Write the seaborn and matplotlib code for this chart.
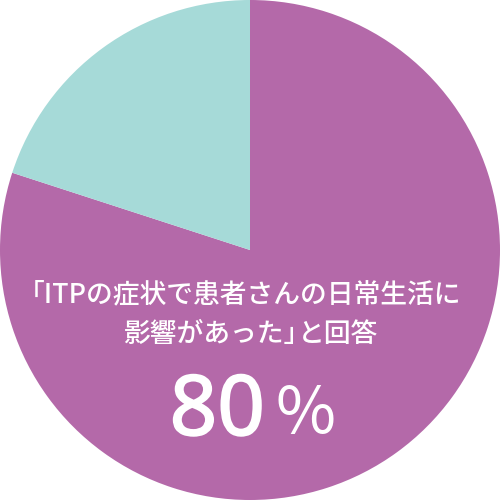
import matplotlib
matplotlib.use("Agg")
import matplotlib.pyplot as plt
import matplotlib.patheffects as pe
import seaborn as sns

labels = ["影響があった", "その他"]
shares = [80, 20]
colors = ["#B469A9", "#A6DAD8"]
caption_line1 = "「ITPの症状で患者さんの日常生活に"
caption_line2 = ["影響があった」", "と回答"]
headline_value = "80"
headline_unit = "%"

sns.set_style("white")
plt.rcParams["font.family"] = ["Noto Sans CJK JP", "DejaVu Sans"]

fig = plt.figure(figsize=(5, 5), dpi=100)
ax = fig.add_axes([0, 0, 1, 1])
ax.pie(shares, colors=colors, startangle=90, counterclock=False, radius=1,
       wedgeprops=dict(linewidth=0))
ax.set_xlim(-1, 1)
ax.set_ylim(-1, 1)
ax.set_aspect("equal")
ax.axis("off")


# helpers: pixel positions (500 px image) -> data units
def px(x):
    return x / 250 - 1


def py(y):
    return 1 - y / 250


txt = dict(color="white", fontweight="medium")
ax.text(px(461), py(295), caption_line1, ha="right", va="center",
        fontsize=19.3, **txt)
ax.text(px(123), py(335), caption_line2[0], ha="left", va="center",
        fontsize=19.3, **txt)
ax.text(px(378), py(335), caption_line2[1], ha="right", va="center",
        fontsize=19.3, **txt)
ax.text(px(265), py(435), headline_value, ha="right", va="baseline",
        fontsize=60, family=["Noto Sans", "DejaVu Sans"], **txt,
        path_effects=[pe.withStroke(linewidth=1.3, foreground="white")])
ax.text(px(275), py(433), headline_unit, ha="left", va="baseline",
        color="white", fontsize=47, fontweight="normal")

fig.savefig("out.png", dpi=100)
